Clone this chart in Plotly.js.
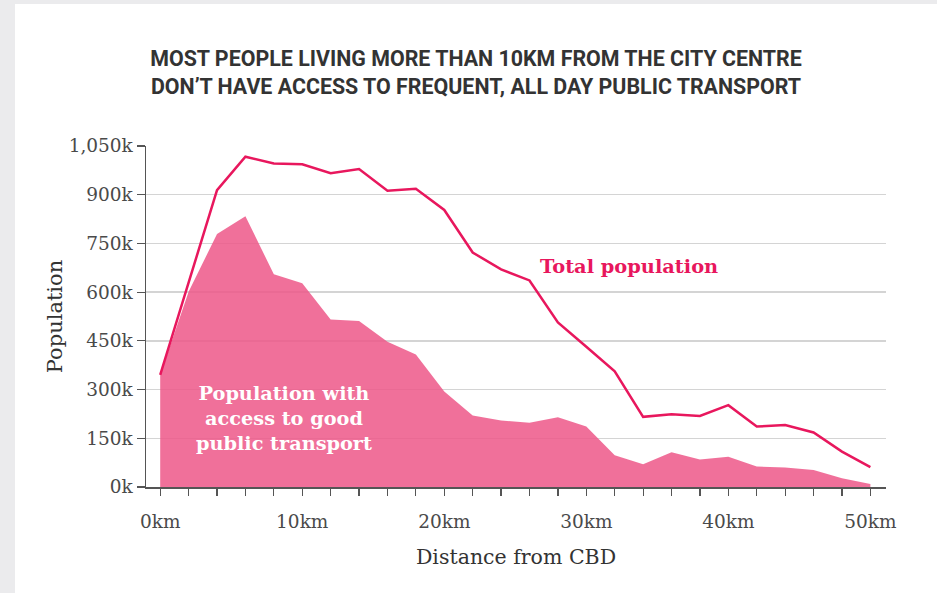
<!DOCTYPE html>
<html>
<head>
<meta charset="utf-8">
<script src="https://cdn.plot.ly/plotly-3.0.1.min.js"></script>
<style>
  html, body { margin: 0; padding: 0; background: #ebebed; width: 937px; height: 593px; overflow: hidden; }
  #chart { position: absolute; left: 15px; top: 4px; width: 922px; height: 589px; background: #ffffff; }
</style>
</head>
<body>
<div id="chart"></div>
<script>
// Distance from CBD (km)
const distanceKm = [0, 2, 4, 6, 8, 10, 12, 14, 16, 18, 20, 22, 24, 26, 28, 30, 32, 34, 36, 38, 40, 42, 44, 46, 48, 50];
// Total population (thousands)
const totalPopulation = [345, 631, 914, 1017, 996, 994, 966, 979, 912, 918, 853, 722, 670, 636, 507, 432, 356, 216, 224, 219, 252, 186, 191, 168, 109, 61];
// Population with access to good public transport (thousands)
const accessPopulation = [345, 601, 779, 834, 655, 627, 516, 511, 447, 408, 294, 220, 205, 198, 215, 186, 98, 70, 107, 85, 93, 63, 60, 52, 27, 9];

const xTickVals = [0, 2, 4, 6, 8, 10, 12, 14, 16, 18, 20, 22, 24, 26, 28, 30, 32, 34, 36, 38, 40, 42, 44, 46, 48, 50];
const xTickText = ['0km', '', '', '', '', '10km', '', '', '', '', '20km', '', '', '', '', '30km', '', '', '', '', '40km', '', '', '', '', '50km'];
const yTickVals = [0, 150, 300, 450, 600, 750, 900, 1050];
const yTickText = ['0k', '150k', '300k', '450k', '600k', '750k', '900k', '1,050k'];

const titleText = 'MOST PEOPLE LIVING MORE THAN 10KM FROM THE CITY CENTRE<br>DON\u2019T HAVE ACCESS TO FREQUENT, ALL DAY PUBLIC TRANSPORT';
const labelTotal = 'Total population';
const labelAccess = 'Population with<br>access to good<br>public transport';

const slab = '"DejaVu Serif", serif';
const pink = '#e8175d';

const traces = [
  {
    x: distanceKm, y: accessPopulation, type: 'scatter', mode: 'lines',
    fill: 'tozeroy', fillcolor: 'rgba(237,87,136,0.85)',
    line: { width: 0, color: 'rgba(237,87,136,0)' },
    hoverinfo: 'skip'
  },
  {
    x: distanceKm, y: totalPopulation, type: 'scatter', mode: 'lines',
    line: { color: pink, width: 2.5 },
    hoverinfo: 'skip'
  }
];

const layout = {
  width: 922, height: 589,
  paper_bgcolor: '#ffffff', plot_bgcolor: '#ffffff',
  margin: { l: 131, r: 51, t: 142, b: 106 },
  showlegend: false,
  title: {
    text: titleText,
    font: { family: 'Roboto, sans-serif', size: 21.4, color: '#333333', weight: 700 },
    x: 0.5, xanchor: 'center', y: 0.895, yanchor: 'middle'
  },
  xaxis: {
    range: [-1, 51.1],
    tickvals: xTickVals, ticktext: xTickText,
    ticks: 'outside', ticklen: 7, tickwidth: 1.2, tickcolor: '#555',
    showline: true, linecolor: '#555', linewidth: 1.5,
    showgrid: false, zeroline: false,
    tickfont: { family: slab, size: 18.5, color: '#4a4a4a' },
    ticklabelstandoff: 10,
    title: { text: 'Distance from CBD', font: { family: slab, size: 20.5, color: '#333333' }, standoff: 19 },
    fixedrange: true
  },
  yaxis: {
    range: [0, 1050],
    tickvals: yTickVals, ticktext: yTickText,
    ticks: 'outside', ticklen: 8, tickwidth: 1.2, tickcolor: '#555',
    showline: true, linecolor: '#555', linewidth: 1.5,
    showgrid: true, gridcolor: '#d4d4d4', gridwidth: 1.5,
    zeroline: false,
    tickfont: { family: slab, size: 18.5, color: '#4a4a4a' },
    title: { text: 'Population', font: { family: slab, size: 21, color: '#333333' }, standoff: 0 },
    layer: 'above traces',
    fixedrange: true
  },
  annotations: [
    {
      x: 33, y: 680, xref: 'x', yref: 'y', text: '<b>' + labelTotal + '</b>',
      showarrow: false, font: { family: slab, size: 19.4, color: pink },
      xanchor: 'center', yanchor: 'middle'
    },
    {
      x: 8.7, y: 212, xref: 'x', yref: 'y', text: '<b>' + labelAccess + '</b>',
      showarrow: false, font: { family: slab, size: 19.3, color: '#ffffff' },
      xanchor: 'center', yanchor: 'middle', align: 'center'
    }
  ]
};

Plotly.newPlot('chart', traces, layout, { displayModeBar: false, staticPlot: true });
</script>
</body>
</html>
